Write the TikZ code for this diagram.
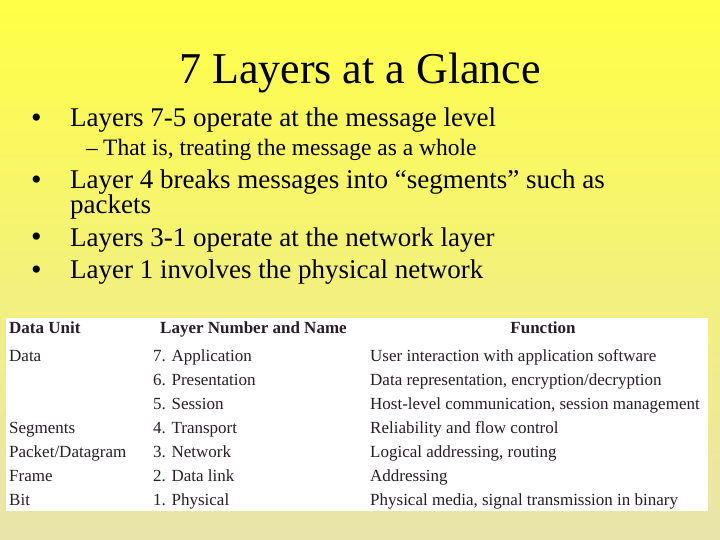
\documentclass[tikz,border=0pt]{standalone}
\usepackage{fontspec}
\setmainfont{Liberation Serif}
\definecolor{bgtop}{RGB}{255,255,70}
\definecolor{bgbot}{RGB}{232,228,172}
\definecolor{tabtxt}{RGB}{40,30,40}
\begin{document}
\begin{tikzpicture}[x=1pt,y=-1pt,
  bul/.style={anchor=base west,font=\fontsize{27}{29}\selectfont,inner sep=0},
  dot/.style={anchor=base west,font=\fontsize{30}{32}\selectfont,inner sep=0},
  sub/.style={anchor=base west,font=\fontsize{23.5}{25}\selectfont,inner sep=0},
  cell/.style={anchor=base west,font=\fontsize{17}{19}\selectfont,text=tabtxt,inner sep=0},
  hcell/.style={cell,font=\fontsize{17}{19}\selectfont\bfseries}]
\shade[top color=bgtop,bottom color=bgbot] (0,0) rectangle (720,540);
\useasboundingbox (0,0) rectangle (720,540);
\node[font=\fontsize{44}{46}\selectfont,anchor=base] (title) at (360,84) {7 Layers at a Glance};
\node[dot] (d1) at (31,128) {•};
\node[bul] (b1) at (70,127) {Layers 7-5 operate at the message level};
\node[sub] (d2) at (86,156) {–};
\node[sub] (b2) at (103,156) {That is, treating the message as a whole};
\node[dot] (d3) at (31,190) {•};
\node[bul] (b3) at (70,189) {Layer 4 breaks messages into “segments” such as};
\node[bul] (b3b) at (70,214) {packets};
\node[dot] (d4) at (31,247) {•};
\node[bul] (b4) at (70,246) {Layers 3-1 operate at the network layer};
\node[dot] (d5) at (31,279) {•};
\node[bul] (b5) at (70,278) {Layer 1 involves the physical network};
\fill[white] (6,318) rectangle (708,511);
\node[hcell] (h1) at (9,333) {Data Unit};
\node[hcell] (h2) at (160,333) {Layer Number and Name};
\node[hcell,anchor=base] (h3) at (543,333) {Function};
\node[cell] (u1) at (9,361) {Data};
\node[cell] (u4) at (9,433) {Segments};
\node[cell] (u3) at (9,457) {Packet/Datagram};
\node[cell] (u2) at (9,481) {Frame};
\node[cell] (u0) at (9,505) {Bit};
\node[cell] (l7) at (153,361) {7. Application};
\node[cell] (l6) at (153,385) {6. Presentation};
\node[cell] (l5) at (153,409) {5. Session};
\node[cell] (l4) at (153,433) {4. Transport};
\node[cell] (l3) at (153,457) {3. Network};
\node[cell] (l2) at (153,481) {2. Data link};
\node[cell] (l1) at (153,505) {1. Physical};
\node[cell] (f7) at (370,361) {User interaction with application software};
\node[cell] (f6) at (370,385) {Data representation, encryption/decryption};
\node[cell] (f5) at (370,409) {Host-level communication, session management};
\node[cell] (f4) at (370,433) {Reliability and flow control};
\node[cell] (f3) at (370,457) {Logical addressing, routing};
\node[cell] (f2) at (370,481) {Addressing};
\node[cell] (f1) at (370,505) {Physical media, signal transmission in binary};
\end{tikzpicture}
\end{document}
